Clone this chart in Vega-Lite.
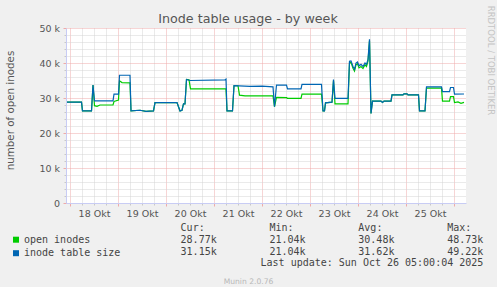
{
  "$schema": "https://vega.github.io/schema/vega-lite/v6.json",
  "autosize": {"type": "none"},
  "width": 400,
  "height": 175,
  "padding": {"left": 66, "top": 28, "right": 31, "bottom": 84},
  "background": "#f0f0f0",
  "config": {
    "view": {"fill": "#ffffff", "stroke": null},
    "axis": {"labelFont": "DejaVu Sans", "titleFont": "DejaVu Sans", "labelColor": "#555555", "titleColor": "#555555", "titleFontWeight": "normal"}
  },
  "title": {"text": "Inode table usage - by week", "font": "DejaVu Sans", "fontSize": 12.7, "fontWeight": "normal", "color": "#555555", "anchor": "middle", "frame": "group", "dx": -18, "dy": 22, "offset": 2},
  "datasets": {
    "lines": [
      {"t": "2025-10-17T22:30:00Z", "s": "open inodes", "v": 28800},
      {"t": "2025-10-18T05:45:00Z", "s": "open inodes", "v": 28800},
      {"t": "2025-10-18T06:15:00Z", "s": "open inodes", "v": 26300},
      {"t": "2025-10-18T10:45:00Z", "s": "open inodes", "v": 26300},
      {"t": "2025-10-18T11:30:00Z", "s": "open inodes", "v": 33700},
      {"t": "2025-10-18T12:15:00Z", "s": "open inodes", "v": 27800},
      {"t": "2025-10-18T13:30:00Z", "s": "open inodes", "v": 27600},
      {"t": "2025-10-18T15:00:00Z", "s": "open inodes", "v": 28000},
      {"t": "2025-10-18T21:30:00Z", "s": "open inodes", "v": 28000},
      {"t": "2025-10-18T22:00:00Z", "s": "open inodes", "v": 29000},
      {"t": "2025-10-19T00:15:00Z", "s": "open inodes", "v": 29400},
      {"t": "2025-10-19T00:45:00Z", "s": "open inodes", "v": 34900},
      {"t": "2025-10-19T02:00:00Z", "s": "open inodes", "v": 34400},
      {"t": "2025-10-19T06:00:00Z", "s": "open inodes", "v": 34300},
      {"t": "2025-10-19T06:30:00Z", "s": "open inodes", "v": 26300},
      {"t": "2025-10-19T11:00:00Z", "s": "open inodes", "v": 26500},
      {"t": "2025-10-19T14:00:00Z", "s": "open inodes", "v": 26200},
      {"t": "2025-10-19T17:45:00Z", "s": "open inodes", "v": 26300},
      {"t": "2025-10-19T18:30:00Z", "s": "open inodes", "v": 28700},
      {"t": "2025-10-20T05:30:00Z", "s": "open inodes", "v": 28700},
      {"t": "2025-10-20T06:15:00Z", "s": "open inodes", "v": 27500},
      {"t": "2025-10-20T07:00:00Z", "s": "open inodes", "v": 26300},
      {"t": "2025-10-20T08:00:00Z", "s": "open inodes", "v": 26500},
      {"t": "2025-10-20T08:45:00Z", "s": "open inodes", "v": 28300},
      {"t": "2025-10-20T09:30:00Z", "s": "open inodes", "v": 28300},
      {"t": "2025-10-20T10:15:00Z", "s": "open inodes", "v": 35300},
      {"t": "2025-10-20T11:30:00Z", "s": "open inodes", "v": 35200},
      {"t": "2025-10-20T12:15:00Z", "s": "open inodes", "v": 32600},
      {"t": "2025-10-21T06:00:00Z", "s": "open inodes", "v": 32600},
      {"t": "2025-10-21T06:30:00Z", "s": "open inodes", "v": 26300},
      {"t": "2025-10-21T09:15:00Z", "s": "open inodes", "v": 26300},
      {"t": "2025-10-21T10:00:00Z", "s": "open inodes", "v": 33500},
      {"t": "2025-10-21T12:00:00Z", "s": "open inodes", "v": 33500},
      {"t": "2025-10-21T12:45:00Z", "s": "open inodes", "v": 30800},
      {"t": "2025-10-21T15:30:00Z", "s": "open inodes", "v": 30600},
      {"t": "2025-10-22T05:30:00Z", "s": "open inodes", "v": 30600},
      {"t": "2025-10-22T06:15:00Z", "s": "open inodes", "v": 27500},
      {"t": "2025-10-22T07:15:00Z", "s": "open inodes", "v": 30200},
      {"t": "2025-10-22T12:15:00Z", "s": "open inodes", "v": 30100},
      {"t": "2025-10-22T12:45:00Z", "s": "open inodes", "v": 29900},
      {"t": "2025-10-22T19:30:00Z", "s": "open inodes", "v": 29900},
      {"t": "2025-10-22T20:00:00Z", "s": "open inodes", "v": 31100},
      {"t": "2025-10-23T05:45:00Z", "s": "open inodes", "v": 31100},
      {"t": "2025-10-23T06:30:00Z", "s": "open inodes", "v": 26300},
      {"t": "2025-10-23T07:15:00Z", "s": "open inodes", "v": 26300},
      {"t": "2025-10-23T07:45:00Z", "s": "open inodes", "v": 28600},
      {"t": "2025-10-23T11:00:00Z", "s": "open inodes", "v": 28800},
      {"t": "2025-10-23T11:45:00Z", "s": "open inodes", "v": 35000},
      {"t": "2025-10-23T12:30:00Z", "s": "open inodes", "v": 28300},
      {"t": "2025-10-23T19:00:00Z", "s": "open inodes", "v": 28300},
      {"t": "2025-10-23T19:45:00Z", "s": "open inodes", "v": 40000},
      {"t": "2025-10-23T20:30:00Z", "s": "open inodes", "v": 40200},
      {"t": "2025-10-23T21:30:00Z", "s": "open inodes", "v": 38500},
      {"t": "2025-10-23T22:15:00Z", "s": "open inodes", "v": 37700},
      {"t": "2025-10-23T23:00:00Z", "s": "open inodes", "v": 39500},
      {"t": "2025-10-23T23:45:00Z", "s": "open inodes", "v": 39800},
      {"t": "2025-10-24T00:30:00Z", "s": "open inodes", "v": 38600},
      {"t": "2025-10-24T01:30:00Z", "s": "open inodes", "v": 39000},
      {"t": "2025-10-24T02:30:00Z", "s": "open inodes", "v": 38400},
      {"t": "2025-10-24T03:30:00Z", "s": "open inodes", "v": 39500},
      {"t": "2025-10-24T04:15:00Z", "s": "open inodes", "v": 39000},
      {"t": "2025-10-24T05:00:00Z", "s": "open inodes", "v": 40500},
      {"t": "2025-10-24T05:45:00Z", "s": "open inodes", "v": 46300},
      {"t": "2025-10-24T06:30:00Z", "s": "open inodes", "v": 25600},
      {"t": "2025-10-24T07:15:00Z", "s": "open inodes", "v": 29100},
      {"t": "2025-10-24T11:30:00Z", "s": "open inodes", "v": 29100},
      {"t": "2025-10-24T12:15:00Z", "s": "open inodes", "v": 28700},
      {"t": "2025-10-24T13:00:00Z", "s": "open inodes", "v": 29100},
      {"t": "2025-10-24T16:30:00Z", "s": "open inodes", "v": 29100},
      {"t": "2025-10-24T17:00:00Z", "s": "open inodes", "v": 30900},
      {"t": "2025-10-24T22:30:00Z", "s": "open inodes", "v": 30900},
      {"t": "2025-10-24T23:00:00Z", "s": "open inodes", "v": 31200},
      {"t": "2025-10-25T00:30:00Z", "s": "open inodes", "v": 31200},
      {"t": "2025-10-25T01:00:00Z", "s": "open inodes", "v": 30900},
      {"t": "2025-10-25T06:15:00Z", "s": "open inodes", "v": 30900},
      {"t": "2025-10-25T06:45:00Z", "s": "open inodes", "v": 26300},
      {"t": "2025-10-25T09:30:00Z", "s": "open inodes", "v": 26300},
      {"t": "2025-10-25T10:15:00Z", "s": "open inodes", "v": 32800},
      {"t": "2025-10-25T17:45:00Z", "s": "open inodes", "v": 32800},
      {"t": "2025-10-25T18:15:00Z", "s": "open inodes", "v": 29100},
      {"t": "2025-10-25T21:45:00Z", "s": "open inodes", "v": 29100},
      {"t": "2025-10-25T22:15:00Z", "s": "open inodes", "v": 30400},
      {"t": "2025-10-25T23:45:00Z", "s": "open inodes", "v": 30400},
      {"t": "2025-10-26T00:15:00Z", "s": "open inodes", "v": 28700},
      {"t": "2025-10-26T02:00:00Z", "s": "open inodes", "v": 28900},
      {"t": "2025-10-26T03:30:00Z", "s": "open inodes", "v": 28500},
      {"t": "2025-10-26T05:00:00Z", "s": "open inodes", "v": 28770},
      {"t": "2025-10-17T22:30:00Z", "s": "inode table size", "v": 28800},
      {"t": "2025-10-18T05:45:00Z", "s": "inode table size", "v": 28800},
      {"t": "2025-10-18T06:15:00Z", "s": "inode table size", "v": 26300},
      {"t": "2025-10-18T10:45:00Z", "s": "inode table size", "v": 26300},
      {"t": "2025-10-18T11:30:00Z", "s": "inode table size", "v": 33700},
      {"t": "2025-10-18T12:15:00Z", "s": "inode table size", "v": 29200},
      {"t": "2025-10-18T21:30:00Z", "s": "inode table size", "v": 29200},
      {"t": "2025-10-18T22:00:00Z", "s": "inode table size", "v": 31100},
      {"t": "2025-10-19T00:15:00Z", "s": "inode table size", "v": 31100},
      {"t": "2025-10-19T00:45:00Z", "s": "inode table size", "v": 36500},
      {"t": "2025-10-19T06:00:00Z", "s": "inode table size", "v": 36500},
      {"t": "2025-10-19T06:30:00Z", "s": "inode table size", "v": 26300},
      {"t": "2025-10-19T11:00:00Z", "s": "inode table size", "v": 26500},
      {"t": "2025-10-19T14:00:00Z", "s": "inode table size", "v": 26200},
      {"t": "2025-10-19T17:45:00Z", "s": "inode table size", "v": 26300},
      {"t": "2025-10-19T18:30:00Z", "s": "inode table size", "v": 28700},
      {"t": "2025-10-20T05:30:00Z", "s": "inode table size", "v": 28700},
      {"t": "2025-10-20T06:15:00Z", "s": "inode table size", "v": 27500},
      {"t": "2025-10-20T07:00:00Z", "s": "inode table size", "v": 26300},
      {"t": "2025-10-20T08:00:00Z", "s": "inode table size", "v": 26500},
      {"t": "2025-10-20T08:45:00Z", "s": "inode table size", "v": 28300},
      {"t": "2025-10-20T09:30:00Z", "s": "inode table size", "v": 28300},
      {"t": "2025-10-20T10:15:00Z", "s": "inode table size", "v": 35300},
      {"t": "2025-10-20T12:00:00Z", "s": "inode table size", "v": 35000},
      {"t": "2025-10-21T05:30:00Z", "s": "inode table size", "v": 35200},
      {"t": "2025-10-21T06:00:00Z", "s": "inode table size", "v": 35400},
      {"t": "2025-10-21T06:30:00Z", "s": "inode table size", "v": 26300},
      {"t": "2025-10-21T09:15:00Z", "s": "inode table size", "v": 26300},
      {"t": "2025-10-21T10:00:00Z", "s": "inode table size", "v": 33500},
      {"t": "2025-10-21T18:00:00Z", "s": "inode table size", "v": 33300},
      {"t": "2025-10-22T00:00:00Z", "s": "inode table size", "v": 33400},
      {"t": "2025-10-22T05:30:00Z", "s": "inode table size", "v": 33200},
      {"t": "2025-10-22T06:15:00Z", "s": "inode table size", "v": 27500},
      {"t": "2025-10-22T07:15:00Z", "s": "inode table size", "v": 33700},
      {"t": "2025-10-22T12:15:00Z", "s": "inode table size", "v": 33700},
      {"t": "2025-10-22T12:45:00Z", "s": "inode table size", "v": 32600},
      {"t": "2025-10-22T19:30:00Z", "s": "inode table size", "v": 32600},
      {"t": "2025-10-22T20:00:00Z", "s": "inode table size", "v": 33900},
      {"t": "2025-10-23T05:45:00Z", "s": "inode table size", "v": 33900},
      {"t": "2025-10-23T06:30:00Z", "s": "inode table size", "v": 26300},
      {"t": "2025-10-23T07:15:00Z", "s": "inode table size", "v": 26300},
      {"t": "2025-10-23T07:45:00Z", "s": "inode table size", "v": 28600},
      {"t": "2025-10-23T11:00:00Z", "s": "inode table size", "v": 28800},
      {"t": "2025-10-23T11:45:00Z", "s": "inode table size", "v": 35300},
      {"t": "2025-10-23T12:30:00Z", "s": "inode table size", "v": 29900},
      {"t": "2025-10-23T19:00:00Z", "s": "inode table size", "v": 29900},
      {"t": "2025-10-23T19:45:00Z", "s": "inode table size", "v": 40500},
      {"t": "2025-10-23T20:30:00Z", "s": "inode table size", "v": 40600},
      {"t": "2025-10-23T21:30:00Z", "s": "inode table size", "v": 39000},
      {"t": "2025-10-23T22:15:00Z", "s": "inode table size", "v": 38200},
      {"t": "2025-10-23T23:00:00Z", "s": "inode table size", "v": 40000},
      {"t": "2025-10-23T23:45:00Z", "s": "inode table size", "v": 40300},
      {"t": "2025-10-24T00:30:00Z", "s": "inode table size", "v": 39200},
      {"t": "2025-10-24T01:30:00Z", "s": "inode table size", "v": 39600},
      {"t": "2025-10-24T02:30:00Z", "s": "inode table size", "v": 39000},
      {"t": "2025-10-24T03:30:00Z", "s": "inode table size", "v": 40000},
      {"t": "2025-10-24T04:15:00Z", "s": "inode table size", "v": 39600},
      {"t": "2025-10-24T05:00:00Z", "s": "inode table size", "v": 41000},
      {"t": "2025-10-24T05:45:00Z", "s": "inode table size", "v": 46800},
      {"t": "2025-10-24T06:30:00Z", "s": "inode table size", "v": 25600},
      {"t": "2025-10-24T07:15:00Z", "s": "inode table size", "v": 29100},
      {"t": "2025-10-24T11:30:00Z", "s": "inode table size", "v": 29100},
      {"t": "2025-10-24T12:15:00Z", "s": "inode table size", "v": 28700},
      {"t": "2025-10-24T13:00:00Z", "s": "inode table size", "v": 29100},
      {"t": "2025-10-24T16:30:00Z", "s": "inode table size", "v": 29100},
      {"t": "2025-10-24T17:00:00Z", "s": "inode table size", "v": 30900},
      {"t": "2025-10-24T22:30:00Z", "s": "inode table size", "v": 30900},
      {"t": "2025-10-24T23:00:00Z", "s": "inode table size", "v": 31200},
      {"t": "2025-10-25T00:30:00Z", "s": "inode table size", "v": 31200},
      {"t": "2025-10-25T01:00:00Z", "s": "inode table size", "v": 30900},
      {"t": "2025-10-25T06:15:00Z", "s": "inode table size", "v": 30900},
      {"t": "2025-10-25T06:45:00Z", "s": "inode table size", "v": 26300},
      {"t": "2025-10-25T09:30:00Z", "s": "inode table size", "v": 26300},
      {"t": "2025-10-25T10:15:00Z", "s": "inode table size", "v": 33200},
      {"t": "2025-10-25T17:45:00Z", "s": "inode table size", "v": 33200},
      {"t": "2025-10-25T18:15:00Z", "s": "inode table size", "v": 31800},
      {"t": "2025-10-25T21:45:00Z", "s": "inode table size", "v": 31800},
      {"t": "2025-10-25T22:15:00Z", "s": "inode table size", "v": 33000},
      {"t": "2025-10-25T23:45:00Z", "s": "inode table size", "v": 33000},
      {"t": "2025-10-26T00:15:00Z", "s": "inode table size", "v": 31100},
      {"t": "2025-10-26T05:00:00Z", "s": "inode table size", "v": 31150}
    ],
    "table": [
      {"row": "hdr", "col": "Cur", "text": "Cur:"},
      {"row": "hdr", "col": "Min", "text": "Min:"},
      {"row": "hdr", "col": "Avg", "text": "Avg:"},
      {"row": "hdr", "col": "Max", "text": "Max:"},
      {"row": "open inodes", "col": "Cur", "text": "28.77k"},
      {"row": "open inodes", "col": "Min", "text": "21.04k"},
      {"row": "open inodes", "col": "Avg", "text": "30.48k"},
      {"row": "open inodes", "col": "Max", "text": "48.73k"},
      {"row": "inode table size", "col": "Cur", "text": "31.15k"},
      {"row": "inode table size", "col": "Min", "text": "21.04k"},
      {"row": "inode table size", "col": "Avg", "text": "31.62k"},
      {"row": "inode table size", "col": "Max", "text": "49.22k"},
      {"row": "upd", "col": "Max", "text": "Last update: Sun Oct 26 05:00:04 2025"}
    ]
  },
  "layer": [
    {
      "data": {"name": "lines"},
      "transform": [{"filter": "datum.s == 'open inodes'"}],
      "mark": {"type": "line", "strokeWidth": 1.2},
      "encoding": {
        "x": {
          "field": "t", "type": "temporal",
          "scale": {"type": "utc", "nice": false, "domain": [{"year": 2025, "month": 10, "date": 17, "hours": 22, "utc": true}, {"year": 2025, "month": 10, "date": 26, "hours": 6, "utc": true}]},
          "axis": {"orient": "bottom", "values": [1760767200000, 1760788800000, 1760810400000, 1760853600000, 1760875200000, 1760896800000, 1760940000000, 1760961600000, 1760983200000, 1761026400000, 1761048000000, 1761069600000, 1761112800000, 1761134400000, 1761156000000, 1761199200000, 1761220800000, 1761242400000, 1761285600000, 1761307200000, 1761328800000, 1761372000000, 1761393600000, 1761415200000], "labels": false, "domain": false, "tickColor": "#c8c8c8", "tickSize": 2, "grid": true, "gridColor": "#d4d4d4", "gridDash": [1, 1], "title": null}
        },
        "y": {
          "field": "v", "type": "quantitative",
          "scale": {"domain": [0, 50000], "nice": false},
          "axis": {"orient": "left", "values": [2000, 4000, 6000, 8000, 12000, 14000, 16000, 18000, 22000, 24000, 26000, 28000, 32000, 34000, 36000, 38000, 42000, 44000, 46000, 48000], "labels": false, "domain": false, "tickSize": 2, "tickColor": "#c8c8c8", "grid": true, "gridColor": "#d4d4d4", "gridDash": [1, 1], "title": null}
        },
        "color": {
          "field": "s", "type": "nominal",
          "scale": {"domain": ["open inodes", "inode table size"], "range": ["#00cc00", "#0066b3"]},
          "legend": {"orient": "none", "legendX": -55, "legendY": 206.7, "title": null, "symbolType": "square", "symbolSize": 9, "symbolStrokeWidth": 3, "labelFont": "DejaVu Sans Mono", "labelFontSize": 10, "labelColor": "#444444", "labelOffset": 3, "rowPadding": -2.5, "padding": 0}
        }
      }
    },
    {
      "data": {"name": "lines"},
      "transform": [{"filter": "datum.s == 'inode table size'"}],
      "mark": {"type": "line", "strokeWidth": 1.2},
      "encoding": {
        "x": {
          "field": "t", "type": "temporal",
          "scale": {"type": "utc", "nice": false, "domain": [{"year": 2025, "month": 10, "date": 17, "hours": 22, "utc": true}, {"year": 2025, "month": 10, "date": 26, "hours": 6, "utc": true}]},
          "axis": {"orient": "bottom", "values": [1760745600000, 1760832000000, 1760918400000, 1761004800000, 1761091200000, 1761177600000, 1761264000000, 1761350400000, 1761436800000], "format": "%d Okt", "labelExpr": "datum.index < 1 ? datum.label : ''", "labelOffset": 24, "labelFlush": false, "labelFontSize": 9.5, "labelPadding": 2, "tickColor": "#eeaaaa", "tickSize": 3, "domainColor": "#c8ccf4", "grid": true, "gridColor": "#eeaaaa", "gridDash": [1, 1], "title": null}
        },
        "y": {
          "field": "v", "type": "quantitative",
          "scale": {"domain": [0, 50000], "nice": false},
          "axis": {"orient": "left", "values": [0, 10000, 20000, 30000, 40000, 50000], "labelExpr": "datum.value == 0 ? '0\u00a0\u00a0' : format(datum.value / 1000, 'd') + ' k'", "labelFontSize": 9.5, "tickSize": 3, "tickColor": "#eeaaaa", "labelPadding": 3.5, "domainColor": "#c8ccf4", "grid": true, "gridColor": "#eeaaaa", "gridDash": [1, 1], "title": "number of open inodes", "titleFontSize": 10.3, "titleX": -55.5, "titleY": 82, "titleBaseline": "middle", "titleAlign": "center", "titleAngle": -90}
        },
        "color": {"field": "s", "type": "nominal"}
      }
    },
    {
      "data": {"name": "table"},
      "transform": [{"filter": "datum.row == 'hdr'"}],
      "mark": {"type": "text", "align": "left", "baseline": "middle", "font": "DejaVu Sans Mono", "fontSize": 10, "color": "#444444", "dx": -36.1},
      "encoding": {
        "x": {"field": "col", "type": "nominal", "scale": {"type": "point", "domain": ["Cur", "Min", "Avg", "Max"], "range": [150.7, 417.3], "padding": 0},
          "axis": {"orient": "bottom", "labels": false, "ticks": false, "domain": false, "grid": false, "title": "Munin 2.0.76", "titleX": 182, "titleY": 78, "titleFont": "DejaVu Sans", "titleFontSize": 7.6, "titleColor": "#b8b8b8", "titleBaseline": "middle", "titleAlign": "center"}},
        "y": {"field": "row", "type": "nominal", "scale": {"type": "point", "domain": ["hdr", "open inodes", "inode table size", "upd"], "range": [200.3, 235.3], "padding": 0},
          "axis": {"orient": "right", "labels": false, "ticks": false, "domain": false, "grid": false, "title": "RRDTOOL / TOBI OETIKER", "titleX": 24, "titleY": 32, "titleAngle": 90, "titleFont": "DejaVu Sans", "titleFontSize": 8.5, "titleColor": "#c4c4c4", "titleBaseline": "middle", "titleAlign": "center"}},
        "text": {"field": "text"}
      }
    },
    {
      "data": {"name": "table"},
      "transform": [{"filter": "datum.row != 'hdr'"}],
      "mark": {"type": "text", "align": "right", "baseline": "middle", "font": "DejaVu Sans Mono", "fontSize": 10, "color": "#444444"},
      "encoding": {
        "x": {"field": "col", "type": "nominal", "scale": {"type": "point", "domain": ["Cur", "Min", "Avg", "Max"], "range": [150.7, 417.3], "padding": 0}, "axis": null},
        "y": {"field": "row", "type": "nominal", "scale": {"type": "point", "domain": ["hdr", "open inodes", "inode table size", "upd"], "range": [200.3, 235.3], "padding": 0}, "axis": null},
        "text": {"field": "text"}
      }
    }
  ],
  "resolve": {"scale": {"x": "independent", "y": "independent"}}
}
